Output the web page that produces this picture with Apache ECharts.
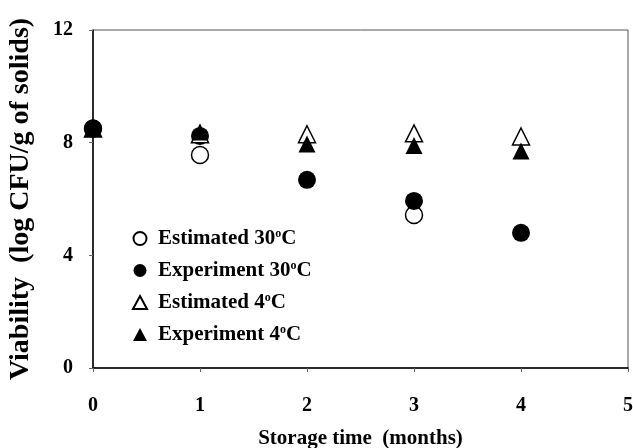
<!DOCTYPE html>
<html>
<head>
<meta charset="utf-8">
<script src="https://cdn.jsdelivr.net/npm/echarts@6/dist/echarts.min.js"></script>
<style>
  html, body { margin: 0; padding: 0; background: #fff; }
  #chart { width: 633px; height: 448px; }
</style>
</head>
<body>
<div id="chart"></div>
<script>
// storage time (months)
const months = [0, 1, 2, 3, 4];
const xTicks = [0, 1, 2, 3, 4, 5];
const yTicks = [0, 4, 8, 12];
// viability (log CFU/g of solids)
const est30 = [8.5, 7.56, null, 5.43, null];
const exp30 = [8.5, 8.24, 6.68, 5.93, 4.8];
const est4 = [8.5, 8.3, 8.3, 8.33, 8.22];
const exp4 = [8.5, 8.38, 7.95, 7.9, 7.7];
const seriesNames = ["Estimated 30", "Experiment 30", "Estimated 4", "Experiment 4"];

const font = "Liberation Serif";
const chart = echarts.init(document.getElementById("chart"));

function pts(vals) {
  return months.map((m, i) => [m, vals[i]]).filter((p) => p[1] !== null);
}

const openStyle = { color: "#fff", borderColor: "#000", borderWidth: 1.5, opacity: 1 };
const fillStyle = { color: "#000", opacity: 1 };

chart.setOption({
  animation: false,
  backgroundColor: "#fff",
  grid: {
    left: 93,
    right: 5,
    top: 30,
    bottom: 80,
    outerBoundsMode: "none",
    containLabel: false,
    show: true,
    borderColor: "#555",
    borderWidth: 1,
  },
  legend: {
    orient: "vertical",
    left: 127,
    top: 223,
    itemGap: 11,
    itemWidth: 14,
    itemHeight: 13,
    data: seriesNames.map((n, i) => ({
      name: n,
      icon: i < 2 ? "circle" : "triangle",
    })),
    formatter: (name) => name + "{sup|o}C",
    textStyle: {
      fontFamily: font,
      fontWeight: "bold",
      fontSize: 21,
      color: "#000",
      padding: [0, 0, 0, 6],
      rich: {
        sup: {
          fontFamily: font,
          fontWeight: "bold",
          fontSize: 12,
          color: "#000",
          verticalAlign: "top",
          padding: [0, 0, 9, 0],
        },
      },
    },
  },
  xAxis: {
    type: "value",
    min: 0,
    max: 5,
    interval: 1,
    name: "Storage time  (months)",
    nameLocation: "middle",
    nameGap: 60,
    nameTextStyle: { fontFamily: font, fontWeight: "bold", fontSize: 21, color: "#000" },
    axisLine: { lineStyle: { color: "#000", width: 1.5 } },
    axisTick: { show: true, length: 4, lineStyle: { color: "#666" } },
    axisLabel: {
      margin: 28,
      fontFamily: font,
      fontWeight: "bold",
      fontSize: 20,
      color: "#000",
      formatter: (v) => (xTicks.includes(v) ? String(v) : ""),
    },
    splitLine: { show: false },
  },
  yAxis: {
    type: "value",
    min: 0,
    max: 12,
    interval: 4,
    name: "Viability  (log CFU/g of solids)",
    nameLocation: "middle",
    nameGap: 58,
    nameTextStyle: { fontFamily: font, fontWeight: "bold", fontSize: 28, color: "#000" },
    axisLine: { show: true, lineStyle: { color: "#000", width: 1.5 } },
    axisTick: { show: true, length: 4, lineStyle: { color: "#666" } },
    axisLabel: {
      margin: 20,
      fontFamily: font,
      fontWeight: "bold",
      fontSize: 20,
      color: "#000",
      formatter: (v) => (yTicks.includes(v) ? String(v) : ""),
    },
    splitLine: { show: false },
  },
  series: [
    { name: seriesNames[0], type: "scatter", symbol: "circle", symbolSize: 17, itemStyle: openStyle, data: pts(est30) },
    { name: seriesNames[1], type: "scatter", symbol: "circle", symbolSize: 18, itemStyle: fillStyle, data: pts(exp30) },
    { name: seriesNames[2], type: "scatter", symbol: "triangle", symbolSize: 17, itemStyle: openStyle, data: pts(est4) },
    { name: seriesNames[3], type: "scatter", symbol: "triangle", symbolSize: 17, itemStyle: fillStyle, data: pts(exp4) },
  ],
});
</script>
</body>
</html>
